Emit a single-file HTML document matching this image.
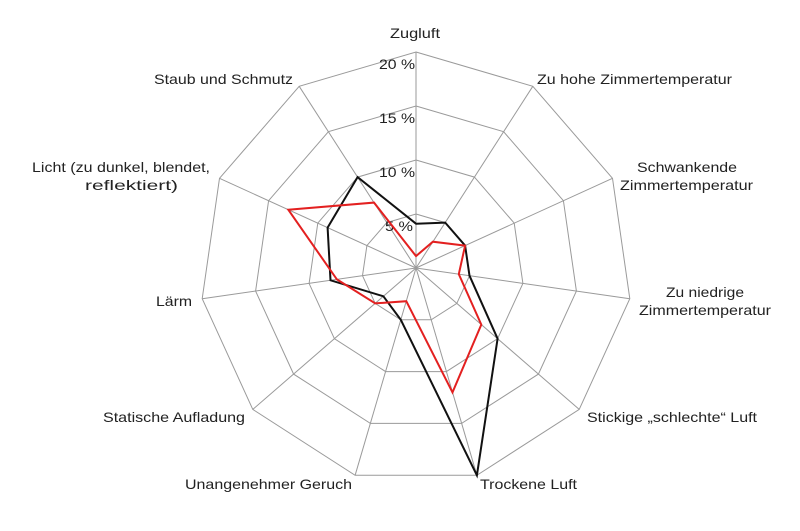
<!DOCTYPE html>
<html><head><meta charset="utf-8"><style>
html,body{margin:0;padding:0;background:#fff;}
svg{display:block;font-family:"Liberation Sans",Arial,sans-serif;font-size:14px;fill:#222;}
</style></head><body>
<svg id="s" width="800" height="531" viewBox="0 0 800 531">
<g id="g"></g>
<g lengthAdjust="spacingAndGlyphs">
<text x="390" y="38" textLength="50" lengthAdjust="spacingAndGlyphs">Zugluft</text>
<text x="537" y="84" textLength="195" lengthAdjust="spacingAndGlyphs">Zu hohe Zimmertemperatur</text>
<text x="637" y="172" textLength="100" lengthAdjust="spacingAndGlyphs">Schwankende</text>
<text x="620" y="190" textLength="133" lengthAdjust="spacingAndGlyphs">Zimmertemperatur</text>
<text x="666" y="297" textLength="78" lengthAdjust="spacingAndGlyphs">Zu niedrige</text>
<text x="639" y="315" textLength="132" lengthAdjust="spacingAndGlyphs">Zimmertemperatur</text>
<text x="587" y="422" textLength="170" lengthAdjust="spacingAndGlyphs">Stickige „schlechte“ Luft</text>
<text x="480" y="489" textLength="97" lengthAdjust="spacingAndGlyphs">Trockene Luft</text>
<text x="185" y="489" textLength="167" lengthAdjust="spacingAndGlyphs">Unangenehmer Geruch</text>
<text x="103" y="422" textLength="142" lengthAdjust="spacingAndGlyphs">Statische Aufladung</text>
<text x="156" y="306" textLength="36" lengthAdjust="spacingAndGlyphs">Lärm</text>
<text x="32" y="172" textLength="178" lengthAdjust="spacingAndGlyphs">Licht (zu dunkel, blendet,</text>
<text x="85" y="190" textLength="93" lengthAdjust="spacingAndGlyphs">reflektiert)</text>
<text x="154" y="84" textLength="139" lengthAdjust="spacingAndGlyphs">Staub und Schmutz</text>
<text x="379" y="69" textLength="36" lengthAdjust="spacingAndGlyphs">20 %</text>
<text x="379" y="123" textLength="36" lengthAdjust="spacingAndGlyphs">15 %</text>
<text x="379" y="177" textLength="36" lengthAdjust="spacingAndGlyphs">10 %</text>
<text x="385" y="231" textLength="28" lengthAdjust="spacingAndGlyphs">5 %</text>
</g>
<g id="d"></g>
</svg>
<script>
var cx=416,cy=268,R=216,n=11,h='';
function pt(k,v){var a=k*2*Math.PI/n,r=v/20*R;return (cx+r*Math.sin(a)).toFixed(1)+','+(cy-r*Math.cos(a)).toFixed(1);}
for(var k=0;k<n;k++){var e=pt(k,20).split(',');h+='<line x1="'+cx+'" y1="'+cy+'" x2="'+e[0]+'" y2="'+e[1]+'" stroke="#9a9a9a" stroke-width="1"/>';}
for(var v=5;v<=20;v+=5){var p=[];for(var k=0;k<n;k++)p.push(pt(k,v));h+='<polygon points="'+p.join(' ')+'" fill="none" stroke="#9a9a9a" stroke-width="1"/>';}
document.getElementById('g').innerHTML=h;
var B=[4.1,5,5,5,10,20,5,4,8,9,10],Rd=[1.1,2.9,5,4,8,12,3.2,5,7.4,13,7.2];
function poly(d,c){var p=[];for(var k=0;k<n;k++)p.push(pt(k,d[k]));return '<polygon points="'+p.join(' ')+'" fill="none" stroke="'+c+'" stroke-width="2" stroke-linejoin="miter"/>';}
document.getElementById('d').innerHTML=poly(B,'#111')+poly(Rd,'#e32020');
</script>
</body></html>
